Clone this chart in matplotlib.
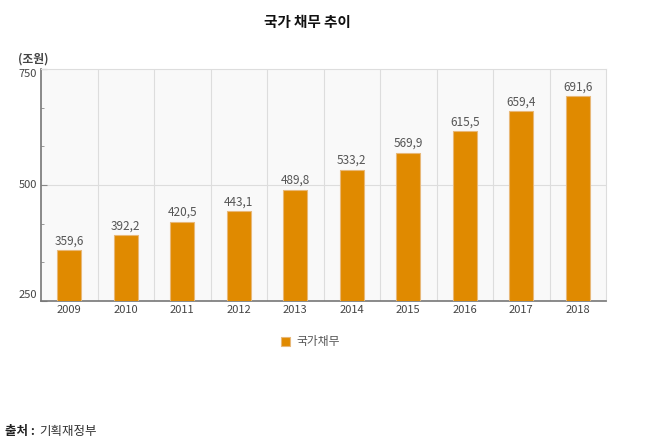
import matplotlib.pyplot as plt
import numpy as np

plt.rcParams['font.family'] = ['Noto Sans CJK KR', 'DejaVu Sans']

# 국가 채무 (조원)
years = ['2009', '2010', '2011', '2012', '2013', '2014', '2015', '2016', '2017', '2018']
debt = [359.6, 392.2, 420.5, 443.1, 489.8, 533.2, 569.9, 615.5, 659.4, 691.6]
labels = ['359,6', '392,2', '420,5', '443,1', '489,8', '533,2', '569,9', '615,5', '659,4', '691,6']

bar_color = '#E08A00'
W, H = 650, 447

fig = plt.figure(figsize=(6.5, 4.47), dpi=100)
ax = fig.add_axes([41 / W, (H - 301) / H, 565 / W, 232 / H])
ax.set_facecolor('#F9F9F9')

x = np.arange(len(years))
ax.bar(x, debt, width=0.43, color=bar_color, edgecolor='#E8B878', linewidth=0.8,
       zorder=3, label='국가채무')
for xi, v, s in zip(x, debt, labels):
    ax.text(xi, v + 6, s, ha='center', va='bottom', fontsize=8.5, color='#555555', zorder=4)

ax.set_xlim(-0.5, len(years) - 0.5)
ax.set_ylim(250, 750)

# vertical separators between categories and a grid line at 500
for b in np.arange(0.5, len(years) - 0.5, 1):
    ax.axvline(b, color='#DDDDDD', linewidth=0.8, zorder=1)
ax.axhline(500, color='#DDDDDD', linewidth=0.8, zorder=1)

ax.set_xticks(x)
ax.set_xticklabels(years, fontsize=8, color='#444444')
ax.tick_params(axis='x', length=0, pad=3)

ax.set_yticks([250, 500, 750])
ax.set_yticklabels([])
ax.set_yticks([333.3, 416.7, 583.3, 666.7], minor=True)
ax.tick_params(axis='y', which='major', length=4, direction='in', color='#888888')
ax.tick_params(axis='y', which='minor', length=2, direction='in', color='#888888')
off = -4 / 565
ax.text(off, 750, '750', transform=ax.get_yaxis_transform(), ha='right', va='top',
        fontsize=8, color='#444444')
ax.text(off, 500, '500', transform=ax.get_yaxis_transform(), ha='right', va='center',
        fontsize=8, color='#444444')
ax.text(off, 252, '250', transform=ax.get_yaxis_transform(), ha='right', va='bottom',
        fontsize=8, color='#444444')

for side in ['top', 'right']:
    ax.spines[side].set_color('#DDDDDD')
for side in ['left', 'bottom']:
    ax.spines[side].set_color('#777777')
    ax.spines[side].set_linewidth(1.2)

fig.text(307 / W, 1 - 22 / H, '국가 채무 추이', ha='center', va='center',
         fontsize=10.5, fontweight='bold', color='#111111')
fig.text(18 / W, 1 - 59 / H, '(조원)', ha='left', va='center', fontsize=8.5,
         fontweight='bold', color='#444444')

leg = fig.legend(loc='center', bbox_to_anchor=(310 / W, 1 - 342 / H), frameon=False,
                 fontsize=8.5, handlelength=0.8, handleheight=0.8, handletextpad=0.5)
for t in leg.get_texts():
    t.set_color('#555555')

fig.text(5 / W, 1 - 432 / H, '출처 :', ha='left', va='center', fontsize=9,
         fontweight='bold', color='#222222')
fig.text(39 / W, 1 - 432 / H, '기획재정부', ha='left', va='center', fontsize=9,
         color='#333333')

fig.savefig('out.png', dpi=100, facecolor='white')
